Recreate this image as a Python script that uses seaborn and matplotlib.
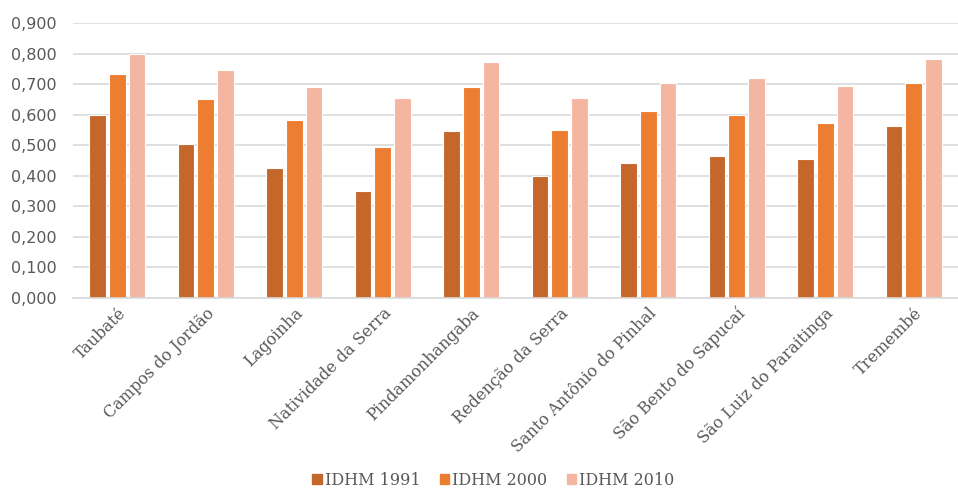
import matplotlib
matplotlib.use("Agg")
import matplotlib.pyplot as plt
import seaborn as sns
import pandas as pd

municipios = ["Taubaté", "Campos do Jordão", "Lagoinha", "Natividade da Serra",
              "Pindamonhangaba", "Redenção da Serra", "Santo Antônio do Pinhal",
              "São Bento do Sapucaí", "São Luiz do Paraitinga", "Tremembé"]
idhm_1991 = [0.600, 0.505, 0.427, 0.351, 0.547, 0.401, 0.441, 0.465, 0.455, 0.562]
idhm_2000 = [0.733, 0.651, 0.583, 0.496, 0.692, 0.550, 0.614, 0.599, 0.573, 0.704]
idhm_2010 = [0.800, 0.747, 0.691, 0.654, 0.772, 0.656, 0.705, 0.719, 0.695, 0.783]
series = ["IDHM 1991", "IDHM 2000", "IDHM 2010"]
colors = ["#C5672A", "#ED7D31", "#F4B6A0"]
yticks = [0.0, 0.1, 0.2, 0.3, 0.4, 0.5, 0.6, 0.7, 0.8, 0.9]

rows = []
for s, vals in zip(series, [idhm_1991, idhm_2000, idhm_2010]):
    for m, v in zip(municipios, vals):
        rows.append({"Município": m, "Série": s, "Valor": v})
df = pd.DataFrame(rows)

sns.set_theme(style="white")
fig = plt.figure(figsize=(9.58, 4.94), dpi=100)
ax = fig.add_axes([0.0762, 0.397, 0.9238, 0.556])

sns.barplot(data=df, x="Município", y="Valor", hue="Série", order=municipios,
            hue_order=series, palette=colors, saturation=1, width=0.67, gap=0.16,
            edgecolor="white", linewidth=0.8, ax=ax, legend=True)

ax.set_ylim(0, 0.9)
ax.set_xlim(-0.5, len(municipios) - 0.5)
ax.set_yticks(yticks)
ax.set_yticklabels([f"{t:.3f}".replace(".", ",") for t in yticks],
                   fontsize=11.5, color="#595959", family="DejaVu Sans")
ax.yaxis.grid(True, color="#D9D9D9", linewidth=1.2)
ax.set_axisbelow(True)
for sp in ["top", "right", "left"]:
    ax.spines[sp].set_visible(False)
ax.spines["bottom"].set_color("#D9D9D9")
ax.spines["bottom"].set_linewidth(1.2)
ax.tick_params(axis="both", length=0, pad=5)
ax.tick_params(axis="y", pad=12)
ax.set_xlabel("")
ax.set_ylabel("")
ax.set_xticks(range(len(municipios)))
ax.set_xticklabels(municipios, rotation=45, ha="right", rotation_mode="anchor",
                   fontsize=11.5, color="#595959", family="DejaVu Serif")

ax.legend_.remove()
handles = [plt.Rectangle((0, 0), 1, 1, color=c) for c in colors]
fig.legend(handles, series, loc="lower center", bbox_to_anchor=(0.515, -0.018),
           ncol=3, frameon=False, handlelength=0.6, handleheight=0.6,
           handletextpad=0.2, columnspacing=1.2,
           prop={"family": "DejaVu Serif", "size": 11.5}, labelcolor="#595959")

fig.savefig("out.png", dpi=100)
